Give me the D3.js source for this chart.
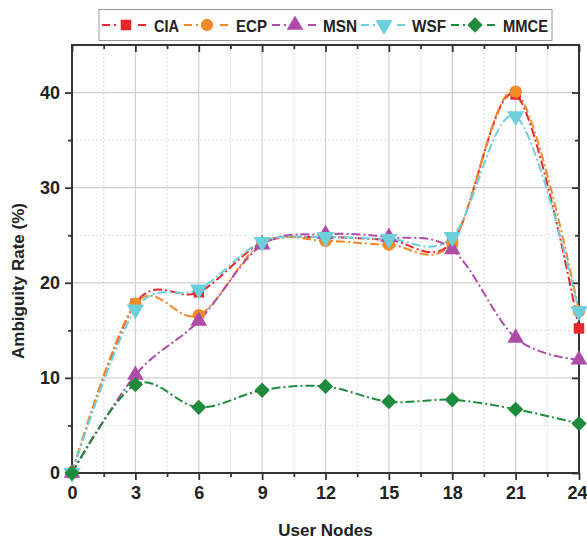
<!DOCTYPE html>
<html><head><meta charset="utf-8">
<script src="https://cdn.jsdelivr.net/npm/d3@7"></script>
<style>body{margin:0;background:#fff}text{font-family:"Liberation Sans",Arial,sans-serif;font-weight:bold;fill:#222}</style>
</head><body><svg id="c" width="587" height="542"></svg>
<script>
const xValues = [0, 3, 6, 9, 12, 15, 18, 21, 24];
const seriesNames = ["CIA", "ECP", "MSN", "WSF", "MMCE"];
const CIA  = [0, 17.8, 19.0, 24.2, 24.8, 24.5, 24.3, 39.8, 15.2];
const ECP  = [0, 17.8, 16.6, 24.2, 24.4, 24.0, 24.2, 40.1, 17.0];
const MSN  = [0, 10.3, 16.0, 24.0, 25.1, 24.8, 23.5, 14.2, 11.9];
const WSF  = [0, 17.2, 19.3, 24.3, 24.8, 24.6, 24.8, 37.5, 17.0];
const MMCE = [0, 9.3, 6.9, 8.7, 9.1, 7.5, 7.7, 6.7, 5.2];
const xTicks = [0, 3, 6, 9, 12, 15, 18, 21, 24];
const yTicks = [0, 10, 20, 30, 40];
const xLabel = "User Nodes";
const yLabel = "Ambiguity Rate (%)";

const colors = {CIA:"#e8262b", ECP:"#f28a2a", MSN:"#ae4ca8", WSF:"#6dcfdc", MMCE:"#1e8a3c"};
const symbols = {CIA:d3.symbolSquare, ECP:d3.symbolCircle, MSN:d3.symbolTriangle, WSF:"tdown", MMCE:"diamond"};
const data = {CIA, ECP, MSN, WSF, MMCE};

const svg = d3.select("#c");
const L=72, R=579, T=45, B=473;
const x = d3.scaleLinear().domain([0,24]).range([L,R]);
const y = d3.scaleLinear().domain([0,45]).range([B,T]);

// grids
const g = svg.append("g");
const xMinor = d3.range(1.5, 24, 3);
const yMinor = d3.range(5, 45, 10);
g.selectAll(".gxm").data(xMinor).join("line").attr("x1",d=>x(d)).attr("x2",d=>x(d)).attr("y1",T).attr("y2",B)
  .attr("stroke","#ddd").attr("stroke-dasharray","2,2").attr("stroke-width",1);
g.selectAll(".gym").data(yMinor).join("line").attr("y1",d=>y(d)).attr("y2",d=>y(d)).attr("x1",L).attr("x2",R)
  .attr("stroke","#ddd").attr("stroke-dasharray","2,2").attr("stroke-width",1);
g.selectAll(".gx").data(xTicks.slice(1,-1)).join("line").attr("x1",d=>x(d)).attr("x2",d=>x(d)).attr("y1",T).attr("y2",B)
  .attr("stroke","#d0d0d0").attr("stroke-width",1.2);
g.selectAll(".gy").data(yTicks.slice(1)).join("line").attr("y1",d=>y(d)).attr("y2",d=>y(d)).attr("x1",L).attr("x2",R)
  .attr("stroke","#d0d0d0").attr("stroke-width",1.2);

// axes
function styleAxis(sel){
  sel.select(".domain").remove();
  sel.selectAll(".tick line").attr("stroke","#333").attr("stroke-width",1.8);
  sel.selectAll(".tick text").style("font-size","18px").attr("fill","#222");
}
svg.append("g").attr("transform",`translate(0,${B})`)
  .call(d3.axisBottom(x).tickValues(xTicks).tickSize(7).tickPadding(6)).call(styleAxis)
  .selectAll(".tick text").filter(d=>d===24).attr("text-anchor","end").attr("dx","8");
svg.append("g").attr("transform",`translate(0,${B})`)
  .call(d3.axisBottom(x).tickValues(xMinor).tickSize(4).tickFormat("")).call(styleAxis);
svg.append("g").attr("transform",`translate(${L},0)`)
  .call(d3.axisLeft(y).tickValues(yTicks).tickSize(7).tickPadding(5)).call(styleAxis);
svg.append("g").attr("transform",`translate(${L},0)`)
  .call(d3.axisLeft(y).tickValues(yMinor).tickSize(4).tickFormat("")).call(styleAxis);
// mirror inward ticks
svg.append("g").attr("transform",`translate(${R},0)`)
  .call(d3.axisLeft(y).tickValues(yTicks).tickSize(7).tickFormat("")).call(styleAxis);
svg.append("g").attr("transform",`translate(${R},0)`)
  .call(d3.axisLeft(y).tickValues(yMinor).tickSize(4).tickFormat("")).call(styleAxis);
svg.append("g").attr("transform",`translate(0,${T})`)
  .call(d3.axisBottom(x).tickValues(xTicks).tickSize(7).tickFormat("")).call(styleAxis);
svg.append("g").attr("transform",`translate(0,${T})`)
  .call(d3.axisBottom(x).tickValues(xMinor).tickSize(4).tickFormat("")).call(styleAxis);

svg.append("rect").attr("x",L).attr("y",T).attr("width",R-L).attr("height",B-T)
  .attr("fill","none").attr("stroke","#333").attr("stroke-width",2);

// titles
svg.append("text").attr("x",(L+R)/2).attr("y",536).attr("text-anchor","middle").style("font-size","17px").text(xLabel);
svg.append("text").attr("transform",`translate(24,${(T+B)/2+22}) rotate(-90)`).attr("text-anchor","middle").style("font-size","17px").text(yLabel);

// symbols
function symPath(s, size){
  if(s==="tdown") return d3.symbol(d3.symbolTriangle, size)();
  if(s==="diamond") return d3.symbol(d3.symbolSquare, size*0.9)();
  return d3.symbol(s, size)();
}
function symTransform(s){
  if(s==="tdown") return " rotate(180)";
  if(s==="diamond") return " rotate(45)";
  return "";
}
const sizes = {CIA:110, ECP:120, MSN:120, WSF:130, MMCE:130};

const line = d3.line().x((d,i)=>x(xValues[i])).y(d=>y(d)).curve(d3.curveCatmullRom.alpha(0));
const dash = "9,3,2,3";
seriesNames.forEach(n=>{
  svg.append("path").attr("d",line(data[n])).attr("fill","none").attr("stroke",colors[n])
    .attr("stroke-width",2).attr("stroke-dasharray",dash);
});
seriesNames.forEach(n=>{
  svg.append("g").selectAll("path").data(data[n]).join("path")
    .attr("d",symPath(symbols[n],sizes[n]))
    .attr("transform",(d,i)=>`translate(${x(xValues[i])},${y(d)})`+symTransform(symbols[n]))
    .attr("fill",colors[n]);
});

// legend
const lg = svg.append("g");
lg.append("rect").attr("x",99).attr("y",9.5).attr("width",453).attr("height",31).attr("fill","#fff").attr("stroke","#999").attr("stroke-width",1);
const legPos = [{l:102,m:126,r:150,t:154,w:25},{l:184,m:207,r:228,t:236,w:31},{l:272,m:295,r:318,t:323,w:34},{l:361,m:384,r:408,t:412,w:34},{l:451,m:475,r:498,t:503,w:45}];
seriesNames.forEach((n,i)=>{
  const p = legPos[i], cy = 25;
  lg.append("line").attr("x1",p.l).attr("x2",p.r).attr("y1",cy).attr("y2",cy).attr("stroke",colors[n]).attr("stroke-width",2).attr("stroke-dasharray","8,4,2,4");
  lg.append("rect").attr("x",p.m-9).attr("y",cy-8).attr("width",18).attr("height",16).attr("fill","#fff");
  lg.append("path").attr("d",symPath(symbols[n],sizes[n])).attr("transform",`translate(${p.m},${cy})`+symTransform(symbols[n])).attr("fill",colors[n]);
  lg.append("text").attr("x",p.t).attr("y",cy+6.5).style("font-size","17px").attr("textLength",p.w).attr("lengthAdjust","spacingAndGlyphs").text(n);
});
</script></body></html>
